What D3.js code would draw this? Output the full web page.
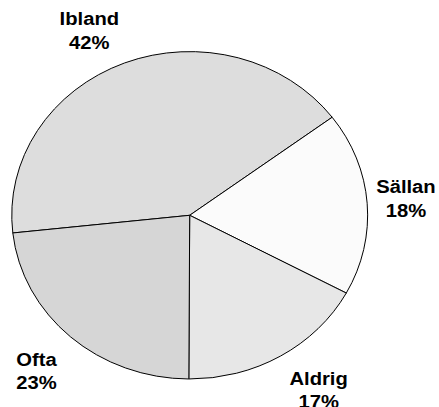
<!DOCTYPE html>
<html>
<head>
<meta charset="utf-8">
<script src="https://cdn.jsdelivr.net/npm/d3@7"></script>
<style>
  html, body { margin: 0; padding: 0; background: #fff; }
  svg { display: block; }
  .lbl { font-family: "Liberation Sans", Arial, sans-serif; font-weight: bold; font-size: 18.6px; fill: #000; }
</style>
</head>
<body>
<svg id="chart" width="439" height="407"></svg>
<script>
// answers, clockwise starting from the left edge
var categories = ["Ibland", "Sällan", "Aldrig", "Ofta"];
var values = [41.5, 18.1, 17.2, 23.2];
var fills = ["#dddddd", "#fbfbfb", "#e7e7e7", "#d6d6d6"];

var width = 439, height = 407;
var cx = 189.7, cy = 215.3;
var r = 163.7;
var stretch = 1.087; // picture is wider than tall

var data = categories.map((c, i) => ({ name: c, value: values[i], fill: fills[i] }));

var svg = d3.select("#chart");
var g = svg.append("g")
    .attr("transform", "translate(" + cx + "," + cy + ") scale(" + stretch + ",1)");

var pie = d3.pie()
    .sort(null)
    .value(d => d.value)
    .startAngle(-96.2 * Math.PI / 180)
    .endAngle((360 - 96.2) * Math.PI / 180);

var arc = d3.arc().innerRadius(0).outerRadius(r);

var arcs = pie(data);

g.selectAll("path.slice")
    .data(arcs)
  .enter().append("path")
    .attr("class", "slice")
    .attr("d", arc)
    .attr("fill", d => d.data.fill)
    .attr("stroke", "#000")
    .attr("stroke-width", 1)
    .attr("vector-effect", "non-scaling-stroke");

var total = d3.sum(values);

var labels = g.selectAll("g.lbl")
    .data(arcs)
  .enter().append("g")
    .attr("class", "lbl");

labels.append("text")
    .attr("class", "lbl")
    .attr("text-anchor", "middle")
    .attr("y", -5)
    .text(d => d.data.name);
labels.append("text")
    .attr("class", "lbl")
    .attr("text-anchor", "middle")
    .attr("y", 18.3)
    .text(d => Math.round(d.data.value / total * 100) + "%");

// put each label box just outside the pie, on the slice's middle ray
labels.attr("transform", function(d) {
  var a = (d.startAngle + d.endAngle) / 2;
  var s = Math.sin(a), c = -Math.cos(a);
  var w = d3.max(d3.select(this).selectAll("text").nodes(), n => n.getComputedTextLength());
  var h = 40;
  var gap = 7 + 18 * Math.min(Math.abs(s), Math.abs(c));
  var ax = (r + gap) * s, ay = (r + gap) * c;
  var bx = ax + Math.sign(s) * Math.min(1, Math.abs(s) * 3) * w / 2;
  var by = ay + Math.sign(c) * Math.min(1, Math.abs(c) * 3) * h / 2;
  // text is drawn in an unstretched group so glyphs get the same widening
  return "translate(" + bx + "," + by + ")";
});
</script>
</body>
</html>
